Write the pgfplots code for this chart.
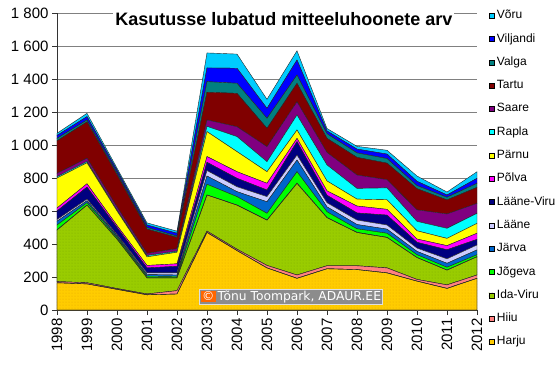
\documentclass[border=0pt]{standalone}
\usepackage{pgfplots}
\pgfplotsset{compat=1.18}
\usepackage{pgfplotstable}
\usepackage{fontspec}
\setmainfont{Liberation Sans}
\newfontfamily\dejavu{DejaVu Sans}
\usetikzlibrary{patterns}

\definecolor{cHarju}{HTML}{FFCC00}
\definecolor{cHarjuDot}{HTML}{E6A800}
\definecolor{cHiiu}{HTML}{FF8080}
\definecolor{cIdaViru}{HTML}{99CC00}
\definecolor{cIdaViruDot}{HTML}{7FAA00}
\definecolor{cJogeva}{HTML}{00FF00}
\definecolor{cJarva}{HTML}{0066CC}
\definecolor{cLaane}{HTML}{CCCCFF}
\definecolor{cLaaneViru}{HTML}{000080}
\definecolor{cPolva}{HTML}{FF00FF}
\definecolor{cParnu}{HTML}{FFFF00}
\definecolor{cRapla}{HTML}{00FFFF}
\definecolor{cSaare}{HTML}{800080}
\definecolor{cTartu}{HTML}{800000}
\definecolor{cValga}{HTML}{008080}
\definecolor{cViljandi}{HTML}{0000FF}
\definecolor{cVoru}{HTML}{00CCFF}
\definecolor{cBoxBg}{HTML}{8C8C8C}
\definecolor{cBoxOr}{HTML}{FF6600}

\pgfplotstableread{
year Harju Hiiu IdaViru Jogeva Jarva Laane LaaneViru Polva Parnu Rapla Saare Tartu Valga Viljandi Voru
1998 165 7 313 30 23 10 52 18 182 8 20 197 15 18 13
1999 158 7 471 14 12 10 73 20 127 8 20 220 12 20 20
2000 125 5 300 10 10 8 42 12 88 6 19 195 12 15 13
2001 92 5 98 10 10 10 30 15 52 8 13 147 10 15 13
2002 97 20 78 8 9 13 40 15 70 6 16 68 8 17 13
2003 470 8 219 65 50 33 50 35 151 32 39 168 64 83 91
2004 360 8 268 51 30 30 51 40 122 91 60 202 61 91 86
2005 255 15 275 41 70 31 40 41 70 61 91 111 61 60 55
2006 192 20 556 70 71 30 81 20 51 91 80 112 50 91 56
2007 250 18 292 35 30 25 45 27 60 97 76 85 28 17 15
2008 245 23 202 22 26 27 43 42 42 65 81 107 27 23 17
2009 225 30 185 25 25 25 60 35 58 72 50 100 28 27 23
2010 175 10 133 17 20 20 35 20 50 57 70 128 19 26 32
2011 131 21 90 17 24 27 55 25 44 61 87 85 16 14 18
2012 192 20 111 12 29 30 34 37 60 61 60 97 25 30 40
}\datatable

\begin{document}
\begin{tikzpicture}[x=1pt,y=1pt]
\begin{axis}[
  at={(0,0)}, anchor=south west,
  scale only axis, width=420pt, height=297pt,
  xmin=1998, xmax=2012, ymin=0, ymax=1800,
  xtick={1998,1999,...,2012}, ytick={0,200,...,1800},
  stack plots=y,
  axis x line*=bottom, axis y line*=left,
  ymajorgrids, grid style={black!50, line width=0.6pt},
  tick align=outside, major tick length=5pt,
  tick style={black!80, line width=0.6pt},
  axis line style={black!80, line width=0.6pt},
  /pgf/number format/assume math mode=true,
  x tick label style={rotate=90, anchor=east, /pgf/number format/1000 sep={}, font=\fontsize{15}{17}\selectfont},
  y tick label style={/pgf/number format/1000 sep={\ }, font=\fontsize{15}{17}\selectfont},
  every axis plot/.append style={draw=black!85, line width=0.4pt, mark=none},
  reverse legend,
  legend cell align=left,
  legend style={at={(1.027,1.012)}, anchor=north west, draw=none, fill=none,
    font=\fontsize{12}{14}\selectfont, row sep=11.3pt, inner sep=0pt,
    nodes={inner sep=0.5pt, text height=8.6pt, text depth=2.4pt}},
  legend image code/.code={\draw[#1, draw=black, line width=0.4pt] (0pt,-2.5pt) rectangle (5pt,2.5pt); \path (7.5pt,0pt);},
]
\addplot[fill=cHarju, postaction={pattern=dots, pattern color=cHarjuDot}] table[x=year,y=Harju] {\datatable} \closedcycle;
\addlegendentry{Harju}
\addplot[fill=cHiiu] table[x=year,y=Hiiu] {\datatable} \closedcycle;
\addlegendentry{Hiiu}
\addplot[fill=cIdaViru, postaction={pattern=dots, pattern color=cIdaViruDot}] table[x=year,y=IdaViru] {\datatable} \closedcycle;
\addlegendentry{Ida-Viru}
\addplot[fill=cJogeva] table[x=year,y=Jogeva] {\datatable} \closedcycle;
\addlegendentry{Jõgeva}
\addplot[fill=cJarva] table[x=year,y=Jarva] {\datatable} \closedcycle;
\addlegendentry{Järva}
\addplot[fill=cLaane] table[x=year,y=Laane] {\datatable} \closedcycle;
\addlegendentry{Lääne}
\addplot[fill=cLaaneViru] table[x=year,y=LaaneViru] {\datatable} \closedcycle;
\addlegendentry{Lääne-Viru}
\addplot[fill=cPolva] table[x=year,y=Polva] {\datatable} \closedcycle;
\addlegendentry{Põlva}
\addplot[fill=cParnu] table[x=year,y=Parnu] {\datatable} \closedcycle;
\addlegendentry{Pärnu}
\addplot[fill=cRapla] table[x=year,y=Rapla] {\datatable} \closedcycle;
\addlegendentry{Rapla}
\addplot[fill=cSaare] table[x=year,y=Saare] {\datatable} \closedcycle;
\addlegendentry{Saare}
\addplot[fill=cTartu] table[x=year,y=Tartu] {\datatable} \closedcycle;
\addlegendentry{Tartu}
\addplot[fill=cValga] table[x=year,y=Valga] {\datatable} \closedcycle;
\addlegendentry{Valga}
\addplot[fill=cViljandi] table[x=year,y=Viljandi] {\datatable} \closedcycle;
\addlegendentry{Viljandi}
\addplot[fill=cVoru] table[x=year,y=Voru] {\datatable} \closedcycle;
\addlegendentry{Võru}

\coordinate (titlepos) at (rel axis cs:0.540,0.978);
\coordinate (copypos) at (rel axis cs:0.557,0.044);
\end{axis}
\node[fill=white, inner sep=2pt, font=\bfseries\fontsize{18}{20}\selectfont]
  at (titlepos) {Kasutusse lubatud mitteeluhoonete arv};
\node[draw=white!75!gray, line width=0.8pt, fill=cBoxBg, text=white, inner sep=1.2pt,
  font=\dejavu\fontsize{12.3}{14}\selectfont]
  at (copypos) {\setlength{\fboxsep}{1.2pt}\colorbox{cBoxOr}{\textcolor{white}{©}}\,Tõnu Toompark, ADAUR.EE};
\pgfresetboundingbox
\path[use as bounding box] (-57,-55) rectangle (503,310);
\end{tikzpicture}
\end{document}
